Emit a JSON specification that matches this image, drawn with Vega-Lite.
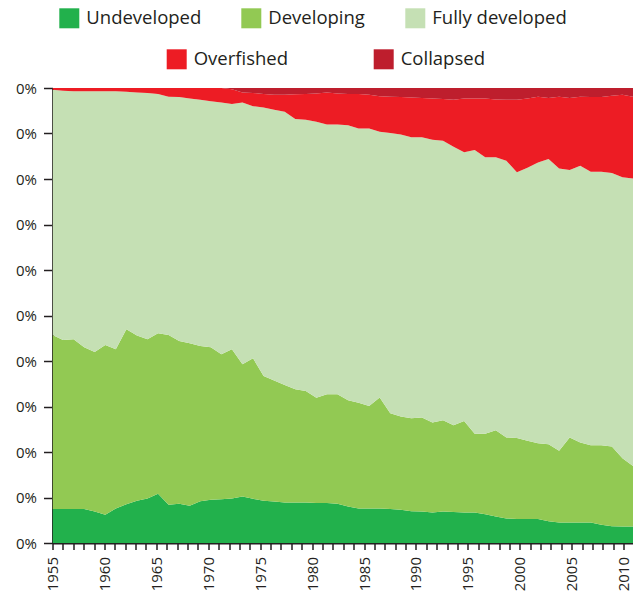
{
  "$schema": "https://vega.github.io/schema/vega-lite/v6.json",
  "autosize": {"type": "none"},
  "padding": {"left": 52.5, "top": 88, "right": 0, "bottom": 51},
  "width": 580.5,
  "height": 455,
  "config": {
    "view": {"stroke": null},
    "axis": {"grid": false, "labelFont": "Open Sans", "labelFontSize": 15, "labelColor": "#231f20", "domainColor": "#231f20", "tickColor": "#231f20", "domainWidth": 2, "tickWidth": 1.5, "title": null},
    "legend": {"labelFont": "Open Sans", "labelFontSize": 18.5, "labelColor": "#231f20", "labelOffset": 7, "symbolSize": 400, "symbolType": "square", "symbolStrokeWidth": 0, "symbolOpacity": 1, "padding": 0, "rowPadding": 0, "title": null, "orient": "none", "direction": "horizontal"}
  },
  "data": {
    "values": [
      {"year": 1955, "Undeveloped": 7.5, "Developing": 38.2, "Fully developed": 53.9, "Overfished": 0.4, "Collapsed": 0},
      {"year": 1956, "Undeveloped": 7.5, "Developing": 37.1, "Fully developed": 54.8, "Overfished": 0.6, "Collapsed": 0},
      {"year": 1957, "Undeveloped": 7.5, "Developing": 37.3, "Fully developed": 54.5, "Overfished": 0.7, "Collapsed": 0},
      {"year": 1958, "Undeveloped": 7.5, "Developing": 35.5, "Fully developed": 56.3, "Overfished": 0.7, "Collapsed": 0},
      {"year": 1959, "Undeveloped": 6.9, "Developing": 35.1, "Fully developed": 57.3, "Overfished": 0.7, "Collapsed": 0},
      {"year": 1960, "Undeveloped": 6.2, "Developing": 37.3, "Fully developed": 55.8, "Overfished": 0.7, "Collapsed": 0},
      {"year": 1961, "Undeveloped": 7.6, "Developing": 35.0, "Fully developed": 56.7, "Overfished": 0.7, "Collapsed": 0},
      {"year": 1962, "Undeveloped": 8.5, "Developing": 38.5, "Fully developed": 52.2, "Overfished": 0.8, "Collapsed": 0},
      {"year": 1963, "Undeveloped": 9.3, "Developing": 36.3, "Fully developed": 53.4, "Overfished": 1.0, "Collapsed": 0},
      {"year": 1964, "Undeveloped": 9.8, "Developing": 35.0, "Fully developed": 54.1, "Overfished": 1.1, "Collapsed": 0},
      {"year": 1965, "Undeveloped": 10.8, "Developing": 35.3, "Fully developed": 52.6, "Overfished": 1.3, "Collapsed": 0},
      {"year": 1966, "Undeveloped": 8.4, "Developing": 37.3, "Fully developed": 52.4, "Overfished": 1.9, "Collapsed": 0},
      {"year": 1967, "Undeveloped": 8.6, "Developing": 35.8, "Fully developed": 53.6, "Overfished": 2.0, "Collapsed": 0},
      {"year": 1968, "Undeveloped": 8.2, "Developing": 35.7, "Fully developed": 53.8, "Overfished": 2.3, "Collapsed": 0},
      {"year": 1969, "Undeveloped": 9.2, "Developing": 34.1, "Fully developed": 54.1, "Overfished": 2.6, "Collapsed": 0},
      {"year": 1970, "Undeveloped": 9.5, "Developing": 33.5, "Fully developed": 54.1, "Overfished": 2.9, "Collapsed": 0},
      {"year": 1971, "Undeveloped": 9.6, "Developing": 31.9, "Fully developed": 55.3, "Overfished": 3.2, "Collapsed": 0},
      {"year": 1972, "Undeveloped": 9.8, "Developing": 32.8, "Fully developed": 53.9, "Overfished": 3.2, "Collapsed": 0.3},
      {"year": 1973, "Undeveloped": 10.2, "Developing": 29.1, "Fully developed": 57.5, "Overfished": 2.2, "Collapsed": 1.0},
      {"year": 1974, "Undeveloped": 9.7, "Developing": 30.9, "Fully developed": 55.4, "Overfished": 2.9, "Collapsed": 1.1},
      {"year": 1975, "Undeveloped": 9.3, "Developing": 27.4, "Fully developed": 59.0, "Overfished": 3.0, "Collapsed": 1.3},
      {"year": 1976, "Undeveloped": 9.1, "Developing": 26.6, "Fully developed": 59.5, "Overfished": 3.3, "Collapsed": 1.5},
      {"year": 1977, "Undeveloped": 8.9, "Developing": 25.8, "Fully developed": 60.1, "Overfished": 3.7, "Collapsed": 1.5},
      {"year": 1978, "Undeveloped": 8.9, "Developing": 24.9, "Fully developed": 59.4, "Overfished": 5.4, "Collapsed": 1.4},
      {"year": 1979, "Undeveloped": 8.9, "Developing": 24.5, "Fully developed": 59.6, "Overfished": 5.7, "Collapsed": 1.3},
      {"year": 1980, "Undeveloped": 8.8, "Developing": 23.1, "Fully developed": 60.7, "Overfished": 6.2, "Collapsed": 1.2},
      {"year": 1981, "Undeveloped": 8.8, "Developing": 23.9, "Fully developed": 59.3, "Overfished": 7.0, "Collapsed": 1.0},
      {"year": 1982, "Undeveloped": 8.6, "Developing": 24.1, "Fully developed": 59.3, "Overfished": 6.8, "Collapsed": 1.2},
      {"year": 1983, "Undeveloped": 8.0, "Developing": 23.4, "Fully developed": 60.4, "Overfished": 6.9, "Collapsed": 1.3},
      {"year": 1984, "Undeveloped": 7.6, "Developing": 23.2, "Fully developed": 60.3, "Overfished": 7.6, "Collapsed": 1.3},
      {"year": 1985, "Undeveloped": 7.6, "Developing": 22.5, "Fully developed": 61.0, "Overfished": 7.4, "Collapsed": 1.5},
      {"year": 1986, "Undeveloped": 7.6, "Developing": 24.4, "Fully developed": 58.4, "Overfished": 7.8, "Collapsed": 1.8},
      {"year": 1987, "Undeveloped": 7.5, "Developing": 21.0, "Fully developed": 61.6, "Overfished": 8.0, "Collapsed": 1.9},
      {"year": 1988, "Undeveloped": 7.3, "Developing": 20.5, "Fully developed": 62.0, "Overfished": 8.2, "Collapsed": 2.0},
      {"year": 1989, "Undeveloped": 7.0, "Developing": 20.4, "Fully developed": 61.8, "Overfished": 8.7, "Collapsed": 2.1},
      {"year": 1990, "Undeveloped": 6.9, "Developing": 20.7, "Fully developed": 61.6, "Overfished": 8.6, "Collapsed": 2.2},
      {"year": 1991, "Undeveloped": 6.7, "Developing": 19.8, "Fully developed": 62.1, "Overfished": 9.1, "Collapsed": 2.3},
      {"year": 1992, "Undeveloped": 6.9, "Developing": 20.1, "Fully developed": 61.4, "Overfished": 9.2, "Collapsed": 2.4},
      {"year": 1993, "Undeveloped": 6.8, "Developing": 19.1, "Fully developed": 61.2, "Overfished": 10.3, "Collapsed": 2.6},
      {"year": 1994, "Undeveloped": 6.7, "Developing": 20.1, "Fully developed": 59.1, "Overfished": 11.8, "Collapsed": 2.3},
      {"year": 1995, "Undeveloped": 6.7, "Developing": 17.3, "Fully developed": 62.4, "Overfished": 11.3, "Collapsed": 2.3},
      {"year": 1996, "Undeveloped": 6.3, "Developing": 17.7, "Fully developed": 60.8, "Overfished": 12.9, "Collapsed": 2.3},
      {"year": 1997, "Undeveloped": 5.8, "Developing": 19.0, "Fully developed": 60.0, "Overfished": 12.7, "Collapsed": 2.5},
      {"year": 1998, "Undeveloped": 5.4, "Developing": 17.8, "Fully developed": 60.8, "Overfished": 13.4, "Collapsed": 2.6},
      {"year": 1999, "Undeveloped": 5.3, "Developing": 17.8, "Fully developed": 58.4, "Overfished": 15.9, "Collapsed": 2.6},
      {"year": 2000, "Undeveloped": 5.3, "Developing": 17.2, "Fully developed": 60.0, "Overfished": 15.2, "Collapsed": 2.3},
      {"year": 2001, "Undeveloped": 5.3, "Developing": 16.6, "Fully developed": 61.7, "Overfished": 14.5, "Collapsed": 1.9},
      {"year": 2002, "Undeveloped": 4.8, "Developing": 16.9, "Fully developed": 62.7, "Overfished": 13.4, "Collapsed": 2.2},
      {"year": 2003, "Undeveloped": 4.5, "Developing": 15.8, "Fully developed": 62.0, "Overfished": 15.8, "Collapsed": 1.9},
      {"year": 2004, "Undeveloped": 4.5, "Developing": 18.7, "Fully developed": 58.8, "Overfished": 15.8, "Collapsed": 2.2},
      {"year": 2005, "Undeveloped": 4.5, "Developing": 17.6, "Fully developed": 60.8, "Overfished": 15.2, "Collapsed": 1.9},
      {"year": 2006, "Undeveloped": 4.5, "Developing": 17.0, "Fully developed": 60.1, "Overfished": 16.4, "Collapsed": 2.0},
      {"year": 2007, "Undeveloped": 4.0, "Developing": 17.5, "Fully developed": 60.1, "Overfished": 16.4, "Collapsed": 2.0},
      {"year": 2008, "Undeveloped": 3.7, "Developing": 17.5, "Fully developed": 60.1, "Overfished": 17.0, "Collapsed": 1.7},
      {"year": 2009, "Undeveloped": 3.6, "Developing": 15.0, "Fully developed": 61.8, "Overfished": 18.1, "Collapsed": 1.5},
      {"year": 2010, "Undeveloped": 3.6, "Developing": 13.3, "Fully developed": 63.2, "Overfished": 18.0, "Collapsed": 1.9}
    ]
  },
  "transform": [
    {"fold": ["Undeveloped", "Developing", "Fully developed", "Overfished", "Collapsed"], "as": ["status", "pct"]},
    {"calculate": "indexof(['Undeveloped','Developing','Fully developed','Overfished','Collapsed'], datum.status)", "as": "rank"}
  ],
  "layer": [
    {
      "mark": {"type": "area", "interpolate": "linear", "clip": true},
      "encoding": {
        "x": {"field": "year", "type": "quantitative", "scale": {"domain": [1955, 2010], "nice": false, "zero": false}, "axis": null},
        "y": {
          "field": "pct", "type": "quantitative", "stack": "normalize",
          "scale": {"domain": [0, 1], "nice": false},
          "axis": {"values": [0, 0.1, 0.2, 0.3, 0.4, 0.5, 0.6, 0.7, 0.8, 0.9, 1], "labelExpr": "'0%'", "tickSize": 9, "labelPadding": 7, "labelFontSize": 15}
        },
        "color": {
          "field": "status", "type": "nominal",
          "scale": {"domain": ["Undeveloped", "Developing", "Fully developed", "Overfished", "Collapsed"], "range": ["#22b14c", "#92c953", "#c5e0b4", "#ed1c24", "#be1e2d"]},
          "legend": {"values": ["Undeveloped", "Developing", "Fully developed"], "legendX": 6.8, "legendY": -79.7, "columns": 3, "columnPadding": 40}
        },
        "order": {"field": "rank", "type": "quantitative", "sort": "ascending"}
      }
    },
    {
      "transform": [{"filter": "datum.status === 'Overfished' || datum.status === 'Collapsed'"}],
      "mark": {"type": "point", "shape": "square", "filled": true, "opacity": 0},
      "encoding": {
        "x": {
          "field": "year", "type": "quantitative",
          "scale": {"domain": [1955, 2010.9], "nice": false, "zero": false},
          "axis": {
            "orient": "bottom",
            "values": [1955,1956,1957,1958,1959,1960,1961,1962,1963,1964,1965,1966,1967,1968,1969,1970,1971,1972,1973,1974,1975,1976,1977,1978,1979,1980,1981,1982,1983,1984,1985,1986,1987,1988,1989,1990,1991,1992,1993,1994,1995,1996,1997,1998,1999,2000,2001,2002,2003,2004,2005,2006,2007,2008,2009,2010],
            "format": "d",
            "labelExpr": "datum.value % 5 === 0 ? datum.label : ''",
            "labelAngle": -90, "tickSize": 6.5, "labelPadding": 7, "labelOverlap": false, "labelFlush": false, "labelBound": false
          }
        },
        "color": {
          "field": "status", "type": "nominal",
          "scale": {"domain": ["Overfished", "Collapsed"], "range": ["#ed1c24", "#be1e2d"]},
          "legend": {"legendX": 114.2, "legendY": -38.7, "columns": 2, "columnPadding": 85, "symbolOpacity": 1}
        }
      }
    }
  ],
  "resolve": {"scale": {"x": "independent", "color": "independent"}, "legend": {"color": "independent"}}
}
